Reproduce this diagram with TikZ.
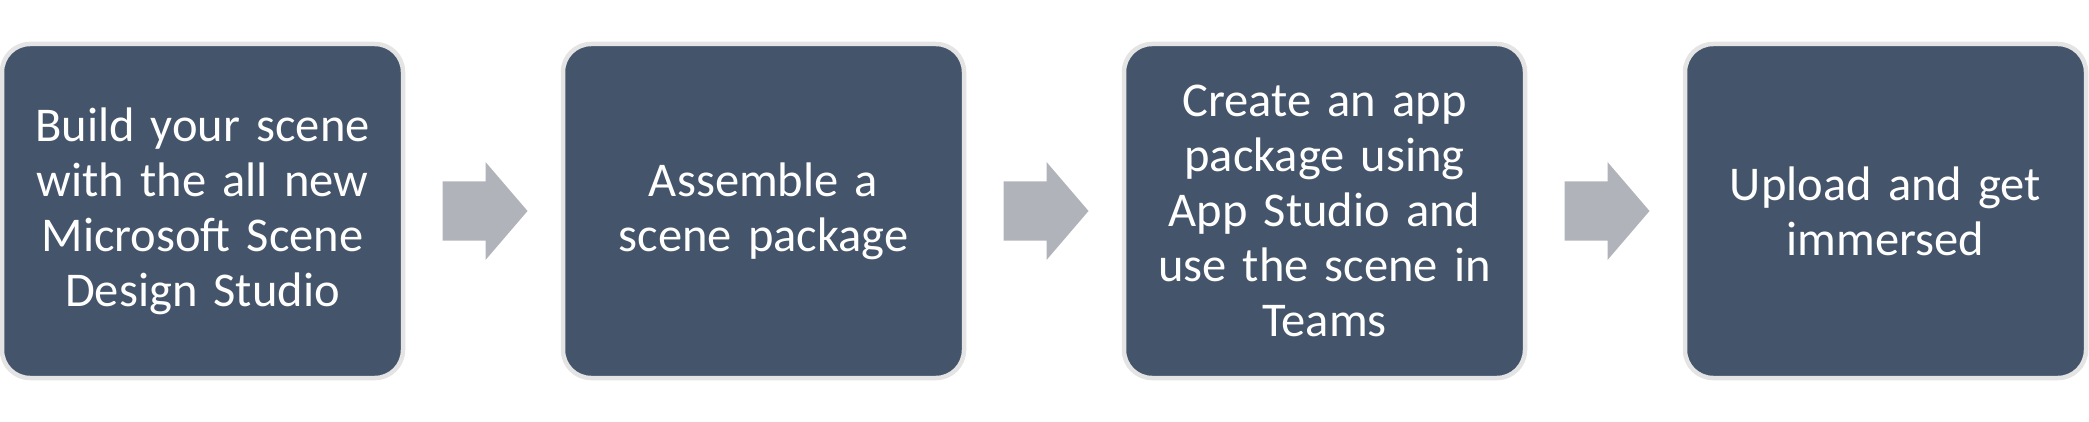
\documentclass[tikz,border=0pt]{standalone}
\usepackage{fontspec}
\setmainfont{Carlito}
\usetikzlibrary{calc}
\definecolor{boxfill}{HTML}{44546A}
\definecolor{boxedge}{HTML}{E4E4E4}
\definecolor{arrowfill}{HTML}{B1B3BA}
\tikzset{
  stepbox/.style={draw=boxedge, line width=4.5pt, fill=boxfill, rounded corners=28pt,
    minimum width=401pt, minimum height=334pt, text=white, align=center,
    text width=385pt, inner sep=0pt,
    font=\fontsize{48.5pt}{55pt}\selectfont},
  flowarrow/.style={fill=arrowfill, draw=none}
}
\newcommand{\flowarrowat}[1]{%
  \fill[flowarrow] ($(#1)+(-42.5pt,29.5pt)$) -- ++(43pt,0) -- ++(0,19.5pt) -- ++(42pt,-49pt)
    -- ++(-42pt,-49pt) -- ++(0,19.5pt) -- ++(-43pt,0) -- cycle;}
\begin{document}
\begin{tikzpicture}[x=1pt,y=1pt]
\useasboundingbox (0,0) rectangle (2089,421);
\node[stepbox] (b1) at (202.5,210) {Build your scene\\with the all new\\Microsoft Scene\\Design Studio};
\node[stepbox] (b2) at (763.5,210) {Assemble a\\scene package};
\node[stepbox] (b3) at (1324.5,210) {Create an app\\package using\\App Studio and\\use the scene in\\Teams};
\node[stepbox] (b4) at (1885.5,210) {Upload and get\\immersed};
\coordinate (a1) at ($(b1.east)!0.5!(b2.west)+(2,0)$);
\coordinate (a2) at ($(b2.east)!0.5!(b3.west)+(2,0)$);
\coordinate (a3) at ($(b3.east)!0.5!(b4.west)+(2,0)$);
\flowarrowat{a1}
\flowarrowat{a2}
\flowarrowat{a3}
\end{tikzpicture}
\end{document}
